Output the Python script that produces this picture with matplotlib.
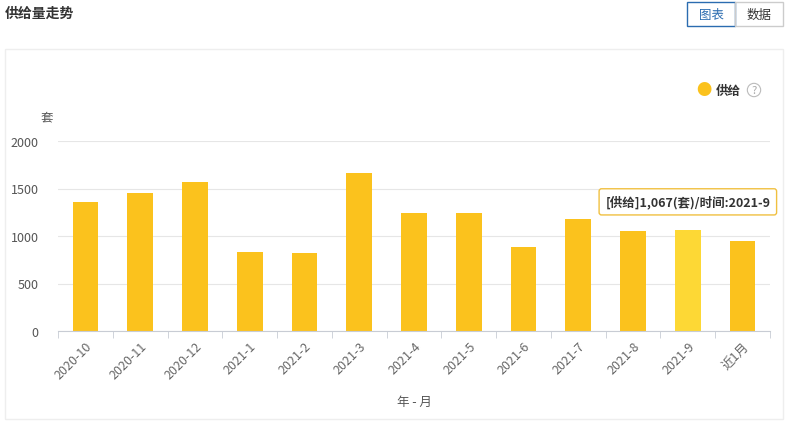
import matplotlib.pyplot as plt
from matplotlib.patches import Rectangle
import numpy as np

plt.rcParams["font.family"] = ["Noto Sans CJK SC", "DejaVu Sans"]

months = ["2020-10", "2020-11", "2020-12", "2021-1", "2021-2", "2021-3", "2021-4",
          "2021-5", "2021-6", "2021-7", "2021-8", "2021-9", "近1月"]
supply = [1358, 1453, 1568, 832, 821, 1663, 1242, 1242, 884, 1179, 1053, 1067, 947]
yticks = [0, 500, 1000, 1500, 2000]
highlight = 11

W, H = 785, 427
fig = plt.figure(figsize=(W / 100, H / 100), dpi=100)
ax = fig.add_axes([58 / W, 1 - 332 / H, 712 / W, 190 / H])

colors = ["#fbc21d"] * len(months)
colors[highlight] = "#fdd835"
x = np.arange(len(months))
ax.bar(x, supply, width=0.47, color=colors, zorder=2)
ax.set_xlim(-0.5, len(months) - 0.5)
ax.set_ylim(0, 2000)
ax.set_yticks(yticks)
ax.yaxis.grid(True, color="#e6e6e6", lw=0.8, zorder=0)
for s in ["top", "right", "left"]:
    ax.spines[s].set_visible(False)
ax.spines["bottom"].set_color("#c8ccd4")
ax.tick_params(axis="y", length=0, labelsize=9, labelcolor="#555555", pad=14)
ax.set_xticks(x)
ax.set_xticklabels(months, rotation=45, ha="right", rotation_mode="anchor",
                   fontsize=9, color="#666666")
ax.set_xticks(np.arange(-0.5, len(months)), minor=True)
ax.tick_params(axis="x", which="major", length=0, pad=6)
ax.tick_params(axis="x", which="minor", length=5, color="#c8ccd4")
ax.set_xlabel("年 - 月", fontsize=9, color="#555555", labelpad=10)
fig.text(47 / W, 1 - 118 / H, "套", fontsize=9, color="#555555", ha="center", va="center")

# panel and header
fig.patches.append(Rectangle((5 / W, 1 - 420 / H), 778 / W, 370 / H, transform=fig.transFigure,
                             fill=False, ec="#eeeeee", lw=1))
fig.text(5 / W, 1 - 14 / H, "供给量走势", fontsize=10, weight="bold", color="#333333", va="center")
fig.patches.append(Rectangle((687 / W, 1 - 27 / H), 48 / W, 24 / H, transform=fig.transFigure,
                             fill=False, ec="#2b6cb0", lw=1))
fig.patches.append(Rectangle((735 / W, 1 - 27 / H), 48 / W, 24 / H, transform=fig.transFigure,
                             fill=False, ec="#cccccc", lw=1))
fig.text(711 / W, 1 - 15 / H, "图表", fontsize=9, color="#2b6cb0", ha="center", va="center")
fig.text(759 / W, 1 - 15 / H, "数据", fontsize=9, color="#333333", ha="center", va="center")

# legend
fig.text(704 / W, 1 - 91 / H, "●", fontsize=11, color="#fbc21d", ha="center", va="center")
fig.text(716 / W, 1 - 91 / H, "供给", fontsize=9, weight="bold", color="#333333", va="center")
fig.text(754 / W, 1 - 91 / H, "?", fontsize=8, color="#aaaaaa", ha="center", va="center",
         bbox=dict(boxstyle="circle,pad=0.15", fc="white", ec="#bbbbbb", lw=0.8))

# tooltip
ax.annotate(f"[供给]{supply[highlight]:,}(套)/时间:{months[highlight]}",
            xy=(highlight, supply[highlight]), xytext=(0, 20), textcoords="offset points",
            ha="center", va="center", fontsize=9, weight="bold", color="#333333", zorder=5,
            bbox=dict(boxstyle="round,pad=0.5,rounding_size=0.2", fc="white", ec="#f0c040", lw=1))

fig.savefig("out.png", dpi=100)
